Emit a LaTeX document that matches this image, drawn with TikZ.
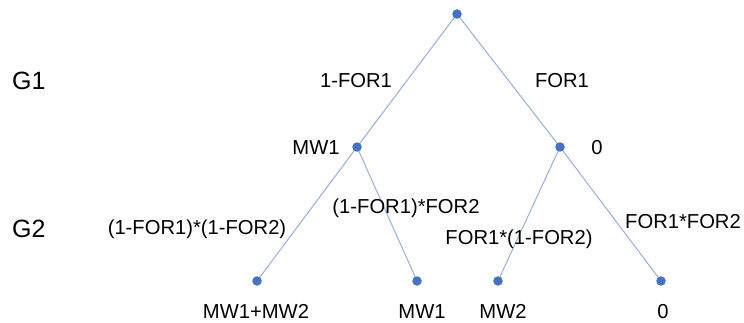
\documentclass[tikz,border=0pt]{standalone}
\usepackage{fontspec}
\setmainfont{Liberation Sans}
\definecolor{branchblue}{RGB}{150,176,222}
\definecolor{dotblue}{RGB}{68,114,196}
\begin{document}
\begin{tikzpicture}[x=1pt,y=-1pt,
  branch/.style={draw=branchblue,line width=1pt},
  dot/.style={circle,fill=dotblue,inner sep=0pt,minimum size=9.5pt},
  lab/.style={inner sep=0pt,anchor=base,font=\fontsize{20.2}{24}\selectfont},
  lvl/.style={inner sep=0pt,anchor=base west,font=\fontsize{25}{30}\selectfont}]
\useasboundingbox (0,0) rectangle (744,323);
% tree positions
\coordinate (root) at (457,14);
\coordinate (a) at (357,147);
\coordinate (b) at (560,147);
\coordinate (l1) at (257,281);
\coordinate (l2) at (417,281);
\coordinate (l3) at (498,281);
\coordinate (l4) at (661,281);
% branches
\draw[branch] (root) -- (a);
\draw[branch] (root) -- (b);
\draw[branch] (a) -- (l1);
\draw[branch] (a) -- (l2);
\draw[branch] (b) -- (l3);
\draw[branch] (b) -- (l4);
% dots on top of the branches
\foreach \n in {root,a,b,l1,l2,l3,l4} \node[dot] (d\n) at (\n) {};
% level labels
\node[lvl] (g1) at (12,90) {G1};
\node[lvl] (g2) at (12,237) {G2};
% branch probabilities
\node[lab] (p1) at (356,88) {1-FOR1};
\node[lab] (p2) at (562,88) {FOR1};
\node[lab] (p3) at (197,234) {(1-FOR1)*(1-FOR2)};
\node[lab] (p4) at (406,214) {(1-FOR1)*FOR2};
\node[lab] (p5) at (519,244) {FOR1*(1-FOR2)};
\node[lab] (p6) at (683,229) {FOR1*FOR2};
% node values
\node[lab] (va) at (316,155) {MW1};
\node[lab] (vb) at (597,155) {0};
\node[lab] (v1) at (256,318) {MW1+MW2};
\node[lab] (v2) at (422,318) {MW1};
\node[lab] (v3) at (503,318) {MW2};
\node[lab] (v4) at (663,318) {0};
\end{tikzpicture}
\end{document}
